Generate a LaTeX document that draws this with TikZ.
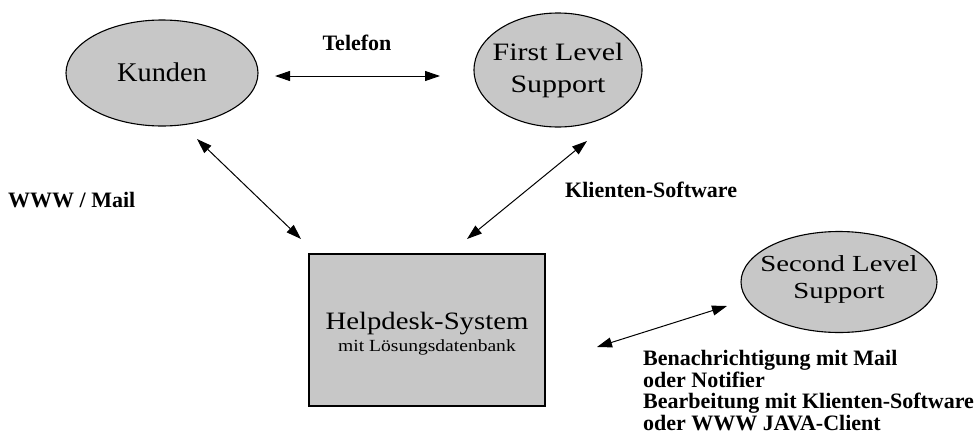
\documentclass[tikz,border=0pt]{standalone}
\usepackage{fontspec}
\setmainfont{Liberation Serif}
\newfontfamily\kfont[FakeStretch=1.05]{Liberation Serif}
\newfontfamily\ffont[FakeStretch=1.2]{Liberation Serif}
\newfontfamily\sfont[FakeStretch=1.25]{Liberation Serif}
\newfontfamily\hfont[FakeStretch=1.15]{Liberation Serif}
\usetikzlibrary{shapes.geometric,arrows.meta}
\definecolor{shade}{gray}{0.78}
\begin{document}
\begin{tikzpicture}[x=1pt,y=-1pt,
  ell/.style={ellipse,draw,fill=shade,line width=1.1pt,inner sep=0pt},
  elltext/.style={inner sep=0pt,align=center},
  boxnode/.style={draw,fill=shade,line width=1.2pt,inner sep=0pt,
    minimum width=236pt,minimum height=152pt},
  lab/.style={font=\bfseries\fontsize{22}{21.7}\selectfont,inner sep=0pt,align=left},
  link/.style={{Triangle[length=15pt,width=10pt]}-{Triangle[length=15pt,width=10pt]},line width=1pt}]
\useasboundingbox (0,0) rectangle (977,434);

\node[ell,minimum width=192pt,minimum height=106pt] (kunden) at (162,73) {};
\node[elltext,font=\kfont\fontsize{27}{30}\selectfont] (kundentxt) at (162,72.5) {Kunden};
\node[ell,minimum width=168pt,minimum height=114pt] (first) at (558,70) {};
\node[elltext,font=\ffont\fontsize{25}{32}\selectfont] (firsttxt) at (558,70) {First Level\\Support};
\node[ell,minimum width=196pt,minimum height=101pt] (second) at (839,282) {};
\node[elltext,font=\sfont\fontsize{23}{27}\selectfont] (secondtxt) at (839,279) {Second Level\\Support};

\node[boxnode] (hd) at (427,330) {};
\node[inner sep=0pt,anchor=base,font=\hfont\fontsize{25}{28}\selectfont] (hdtxt) at (427,329) {Helpdesk-System};
\node[inner sep=0pt,anchor=base,font=\hfont\fontsize{17}{20}\selectfont] (hdsub) at (427,351) {mit Lösungsdatenbank};

\node[lab,anchor=center] (telefon) at (357,43) {Telefon};
\node[lab,anchor=west] (www) at (8,200) {WWW / Mail};
\node[lab,anchor=west] (klient) at (565,190) {Klienten-Software};
\node[lab,anchor=north west] (notes) at (643,350) {Benachrichtigung mit Mail\\oder Notifier\\Bearbeitung mit Klienten-Software\\oder WWW JAVA-Client};

\coordinate (t1) at (275,76);
\coordinate (t2) at (440,76);
\coordinate (k1) at (197,139);
\coordinate (k2) at (301,239);
\coordinate (f1) at (587,141);
\coordinate (f2) at (467,239);
\coordinate (s1) at (597,347);
\coordinate (s2) at (727,306);

\draw[link] (t1) -- (t2);
\draw[link] (k1) -- (k2);
\draw[link] (f1) -- (f2);
\draw[link] (s1) -- (s2);
\end{tikzpicture}
\end{document}
